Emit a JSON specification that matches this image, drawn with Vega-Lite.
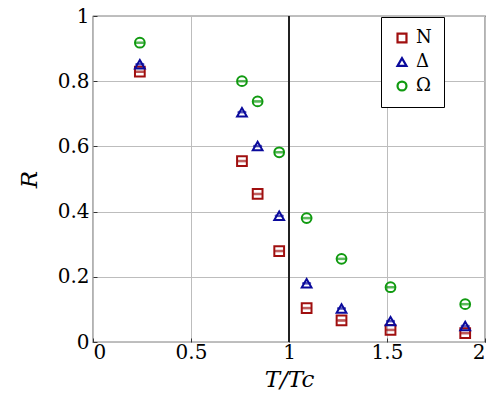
{
  "$schema": "https://vega.github.io/schema/vega-lite/v6.json",
  "autosize": {"type": "none"},
  "padding": {"left": 93, "top": 16, "right": 13, "bottom": 76},
  "width": 392,
  "height": 326,
  "data": {
    "values": [
      {"t": 0.239, "r": 0.829, "series": "N"},
      {"t": 0.760, "r": 0.555, "series": "N"},
      {"t": 0.840, "r": 0.454, "series": "N"},
      {"t": 0.950, "r": 0.279, "series": "N"},
      {"t": 1.090, "r": 0.104, "series": "N"},
      {"t": 1.268, "r": 0.066, "series": "N"},
      {"t": 1.518, "r": 0.037, "series": "N"},
      {"t": 1.899, "r": 0.027, "series": "N"},
      {"t": 0.239, "r": 0.852, "series": "Δ"},
      {"t": 0.760, "r": 0.705, "series": "Δ"},
      {"t": 0.840, "r": 0.601, "series": "Δ"},
      {"t": 0.950, "r": 0.387, "series": "Δ"},
      {"t": 1.090, "r": 0.180, "series": "Δ"},
      {"t": 1.268, "r": 0.103, "series": "Δ"},
      {"t": 1.518, "r": 0.064, "series": "Δ"},
      {"t": 1.899, "r": 0.049, "series": "Δ"},
      {"t": 0.239, "r": 0.918, "series": "Ω"},
      {"t": 0.760, "r": 0.800, "series": "Ω"},
      {"t": 0.840, "r": 0.738, "series": "Ω"},
      {"t": 0.950, "r": 0.582, "series": "Ω"},
      {"t": 1.090, "r": 0.380, "series": "Ω"},
      {"t": 1.268, "r": 0.255, "series": "Ω"},
      {"t": 1.518, "r": 0.168, "series": "Ω"},
      {"t": 1.899, "r": 0.116, "series": "Ω"}
    ]
  },
  "layer": [
    {
      "mark": {"type": "point", "filled": false, "strokeWidth": 2, "size": 95, "opacity": 1},
      "encoding": {
        "x": {
          "field": "t",
          "type": "quantitative",
          "title": "T/Tc",
          "scale": {"domain": [0, 2], "nice": false},
          "axis": {"values": [0, 0.5, 1, 1.5, 2], "format": "~g", "grid": true}
        },
        "y": {
          "field": "r",
          "type": "quantitative",
          "title": "R",
          "scale": {"domain": [0, 1], "nice": false},
          "axis": {"values": [0, 0.2, 0.4, 0.6, 0.8, 1], "format": "~g", "grid": true}
        },
        "color": {
          "field": "series",
          "type": "nominal",
          "scale": {"domain": ["N", "Δ", "Ω"], "range": ["#a00f0f", "#0a0a9c", "#109a10"]},
          "legend": {
            "title": null,
            "encode": {"symbols": {"update": {"fill": {"value": "transparent"}, "strokeWidth": {"value": 2.2}}}}
          }
        },
        "shape": {
          "field": "series",
          "type": "nominal",
          "scale": {"domain": ["N", "Δ", "Ω"], "range": ["square", "triangle-up", "circle"]},
          "legend": {
            "title": null,
            "encode": {"symbols": {"update": {"fill": {"value": "transparent"}, "strokeWidth": {"value": 2.2}}}}
          }
        }
      }
    },
    {
      "mark": {"type": "rule", "color": "#222222", "strokeWidth": 1.2},
      "encoding": {"x": {"datum": 1}}
    },
    {
      "mark": {"type": "tick", "orient": "horizontal", "thickness": 1.5, "size": 8},
      "encoding": {
        "x": {"field": "t", "type": "quantitative"},
        "y": {"field": "r", "type": "quantitative"},
        "stroke": {"field": "series", "type": "nominal", "scale": {"domain": ["N", "Δ", "Ω"], "range": ["#a00f0f", "#0a0a9c", "#109a10"]}, "legend": null},
        "fill": {"field": "series", "type": "nominal", "legend": null}
      }
    }
  ],
  "resolve": {"scale": {"fill": "independent"}},
  "config": {
    "font": "DejaVu Serif",
    "view": {"stroke": "black", "strokeWidth": 1.2},
    "range": {"category": ["#a00f0f", "#0a0a9c", "#109a10"]},
    "axis": {
      "labelFont": "DejaVu Serif",
      "labelFontSize": 20,
      "labelColor": "black",
      "titleFont": "DejaVu Serif",
      "titleFontSize": 23,
      "titleFontStyle": "italic",
      "titleFontWeight": "normal",
      "titleColor": "black",
      "grid": true,
      "gridColor": "#bdbdbd",
      "gridWidth": 1,
      "domain": false,
      "tickColor": "#333333",
      "tickSize": -4,
      "labelPadding": 6
    },
    "axisX": {"titlePadding": 6, "labelPadding": 4},
    "axisY": {"titlePadding": 16, "labelPadding": 8},
    "legend": {
      "orient": "none",
      "legendX": 288,
      "legendY": 1,
      "strokeColor": "black",
      "fillColor": "white",
      "padding": 12,
      "labelFont": "DejaVu Serif",
      "labelFontSize": 18,
      "labelColor": "black",
      "symbolSize": 80,
      "symbolStrokeWidth": 2.2,
      "labelOffset": 5,
      "rowPadding": 6
    }
  }
}
